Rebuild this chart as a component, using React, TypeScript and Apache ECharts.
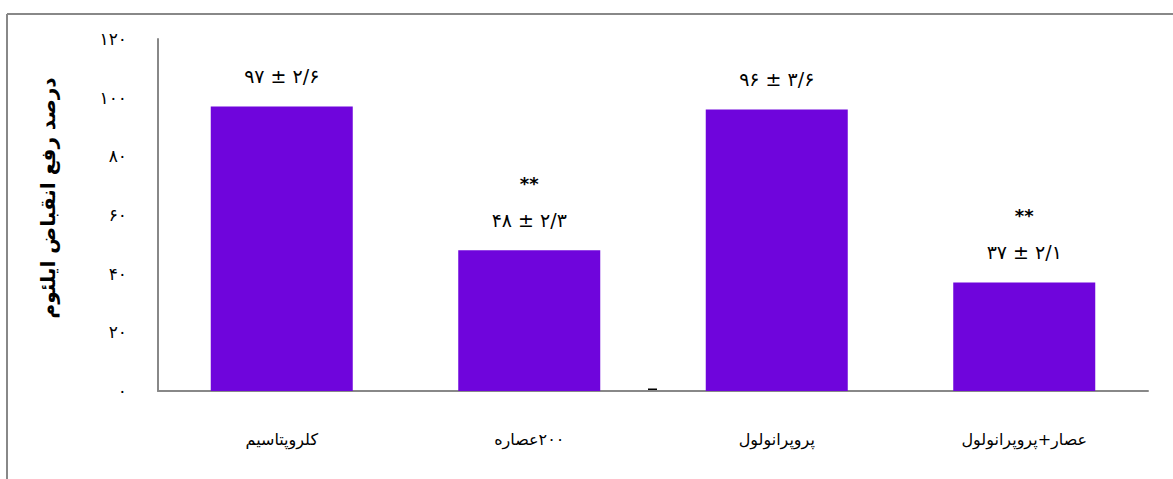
import React, { useEffect, useRef } from "react";
import * as echarts from "echarts";

// LRM (\u200E) marks pin the visual order of the mixed-direction labels
const categories = ["کلروپتاسیم", "عصاره\u200E۲۰۰", "پروپرانولول", "پروپرانولول\u200E+\u200Eعصار"];
const means = [97, 48, 96, 37];
const sds = [2.6, 2.3, 3.6, 2.1];
const significance = ["", "**", "", "**"];
const yTicks = [0, 20, 40, 60, 80, 100, 120];
const yTickLabels = ["۰", "۲۰", "۴۰", "۶۰", "۸۰", "۱۰۰", "۱۲۰"];
const yAxisTitle = "درصد رفع انقباض ایلئوم";

const FA_DIGITS = "۰۱۲۳۴۵۶۷۸۹";
const toFa = (n: number) =>
  String(n)
    .replace(/[0-9]/g, (d) => FA_DIGITS[Number(d)])
    .replace(".", "/");

const FONT = "DejaVu Sans";

export default function App() {
  const ref = useRef<HTMLDivElement>(null);
  useEffect(() => {
    if (!ref.current) return;
    const chart = echarts.init(ref.current, undefined, { renderer: "svg" });
    chart.setOption({
      animation: false,
      backgroundColor: "#ffffff",
      grid: { left: 158, right: 25, top: 39, bottom: 88, containLabel: false },
      xAxis: {
        type: "category",
        data: categories,
        axisLine: { show: true, lineStyle: { color: "#888888", width: 2 } },
        axisTick: { show: false },
        axisLabel: { color: "#000", fontSize: 16, fontFamily: FONT, margin: 40 },
      },
      yAxis: {
        type: "value",
        min: 0,
        max: 120,
        interval: 20,
        axisLine: { show: true, lineStyle: { color: "#888888", width: 2 } },
        axisTick: { show: false },
        splitLine: { show: false },
        axisLabel: {
          color: "#000",
          fontSize: 17,
          fontFamily: FONT,
          margin: 31,
          formatter: (v: number) => yTickLabels[yTicks.indexOf(v)] ?? "",
        },
      },
      series: [
        {
          type: "bar",
          data: means,
          barWidth: 142,
          itemStyle: { color: "#6F05DC" },
          label: {
            show: true,
            position: "top",
            distance: 18,
            formatter: (p: any) => {
              const i = p.dataIndex;
              const v = `{v|${toFa(means[i])} ± ${toFa(sds[i])}}`;
              return significance[i] ? `{s|${significance[i]}}\n${v}` : v;
            },
            rich: {
              v: { fontSize: 19, fontFamily: FONT, color: "#000", lineHeight: 24 },
              s: { fontSize: 18, fontFamily: FONT, fontWeight: "bold", color: "#000", lineHeight: 50 },
            },
          },
        },
      ],
      graphic: [
        { type: "line", shape: { x1: 7, y1: 14, x2: 1173, y2: 14 }, style: { stroke: "#888888", lineWidth: 2 } },
        { type: "line", shape: { x1: 7, y1: 14, x2: 7, y2: 479 }, style: { stroke: "#888888", lineWidth: 2 } },
        { type: "rect", shape: { x: 648, y: 388.5, width: 9, height: 2 }, style: { fill: "#000" } },
        {
          type: "text",
          x: 48,
          y: 198,
          rotation: Math.PI / 2,
          style: {
            text: yAxisTitle,
            fontSize: 20,
            fontWeight: "bold",
            fontFamily: FONT,
            fill: "#000",
            align: "center",
            verticalAlign: "middle",
          },
        },
      ],
    });
    return () => chart.dispose();
  }, []);
  return (
    <div
      ref={ref}
      style={{ position: "absolute", left: 0, top: 0, width: 1173, height: 479 }}
    />
  );
}
